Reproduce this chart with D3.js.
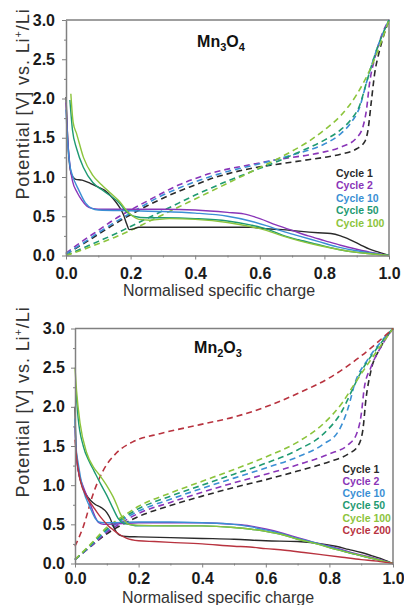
<!DOCTYPE html>
<html>
<head>
<meta charset="utf-8">
<script src="https://cdn.jsdelivr.net/npm/d3@7"></script>
<style>
  body { margin: 0; background: #fff; }
  svg { display: block; }
</style>
</head>
<body>
<div id="chart"></div>
<script>
// Axis ticks
const xTicks = [0, 0.2, 0.4, 0.6, 0.8, 1.0];
const xMinor = [0.1, 0.3, 0.5, 0.7, 0.9];
const yTicks = [0, 0.5, 1.0, 1.5, 2.0, 2.5, 3.0];
const yMinor = [0.25, 0.75, 1.25, 1.75, 2.25, 2.75];

const cyclesTop = ["Cycle 1", "Cycle 2", "Cycle 10", "Cycle 50", "Cycle 100"];
const cyclesBottom = ["Cycle 1", "Cycle 2", "Cycle 10", "Cycle 50", "Cycle 100", "Cycle 200"];

// Mn3O4 discharge (solid), [normalised charge, potential]
const mn3o4Dis1 = [[0,2.02],[0.004,1.6],[0.01,1.2],[0.018,1.02],[0.03,0.97],[0.05,0.96],[0.075,0.92],[0.1,0.87],[0.12,0.83],[0.145,0.73],[0.165,0.62],[0.178,0.52],[0.188,0.4],[0.196,0.33],[0.21,0.34],[0.225,0.36],[0.3,0.36],[0.4,0.36],[0.5,0.36],[0.57,0.36],[0.62,0.34],[0.67,0.33],[0.72,0.31],[0.78,0.29],[0.82,0.28],[0.85,0.25],[0.88,0.2],[0.91,0.14],[0.94,0.08],[0.97,0.04],[1,0]];
const mn3o4Dis2 = [[0,1.95],[0.005,1.5],[0.012,1.15],[0.02,0.95],[0.035,0.8],[0.05,0.7],[0.064,0.63],[0.08,0.6],[0.1,0.59],[0.2,0.59],[0.3,0.59],[0.4,0.58],[0.5,0.55],[0.55,0.53],[0.6,0.47],[0.65,0.39],[0.7,0.32],[0.75,0.25],[0.8,0.19],[0.85,0.13],[0.9,0.08],[0.95,0.035],[1,0]];
const mn3o4Dis10 = [[0,1.86],[0.005,1.45],[0.012,1.15],[0.02,1.02],[0.04,0.83],[0.06,0.67],[0.08,0.6],[0.1,0.58],[0.2,0.57],[0.3,0.56],[0.4,0.54],[0.5,0.5],[0.57,0.44],[0.62,0.38],[0.67,0.31],[0.72,0.25],[0.78,0.18],[0.84,0.11],[0.9,0.06],[0.95,0.03],[1,0]];
const mn3o4Dis50 = [[0.012,1.98],[0.02,1.6],[0.033,1.36],[0.054,1.12],[0.083,0.93],[0.11,0.84],[0.134,0.77],[0.165,0.67],[0.186,0.56],[0.21,0.5],[0.25,0.48],[0.3,0.48],[0.4,0.47],[0.5,0.44],[0.57,0.39],[0.62,0.34],[0.67,0.26],[0.72,0.2],[0.78,0.14],[0.84,0.08],[0.9,0.04],[0.95,0.02],[1,0]];
const mn3o4Dis100 = [[0.015,2.06],[0.022,1.7],[0.033,1.55],[0.054,1.25],[0.083,1.02],[0.11,0.9],[0.134,0.81],[0.165,0.69],[0.195,0.54],[0.226,0.46],[0.26,0.45],[0.32,0.47],[0.4,0.46],[0.5,0.42],[0.57,0.37],[0.62,0.32],[0.67,0.25],[0.72,0.19],[0.78,0.13],[0.84,0.08],[0.9,0.04],[0.95,0.02],[1,0]];

// Mn3O4 charge (dashed)
const mn3o4Chg1 = [[0,0.02],[0.05,0.14],[0.1,0.27],[0.15,0.4],[0.2,0.52],[0.25,0.63],[0.3,0.73],[0.35,0.82],[0.4,0.9],[0.45,0.98],[0.5,1.04],[0.55,1.09],[0.6,1.13],[0.65,1.16],[0.7,1.19],[0.75,1.22],[0.8,1.25],[0.85,1.29],[0.9,1.36],[0.925,1.45],[0.935,1.6],[0.945,1.95],[0.955,2.3],[0.97,2.6],[0.985,2.82],[1,3.0]];
const mn3o4Chg2 = [[0,0.03],[0.05,0.18],[0.1,0.32],[0.15,0.46],[0.2,0.58],[0.25,0.69],[0.3,0.8],[0.35,0.9],[0.4,0.98],[0.45,1.05],[0.5,1.1],[0.55,1.14],[0.6,1.18],[0.65,1.22],[0.7,1.25],[0.75,1.28],[0.8,1.32],[0.85,1.38],[0.9,1.5],[0.92,1.65],[0.93,1.85],[0.94,2.2],[0.955,2.5],[0.975,2.78],[1,3.0]];
const mn3o4Chg10 = [[0,0.02],[0.05,0.15],[0.1,0.29],[0.15,0.42],[0.2,0.54],[0.25,0.66],[0.3,0.77],[0.35,0.86],[0.4,0.94],[0.45,1.01],[0.5,1.07],[0.55,1.12],[0.6,1.17],[0.65,1.22],[0.7,1.28],[0.75,1.34],[0.8,1.42],[0.85,1.55],[0.88,1.68],[0.91,1.9],[0.93,2.2],[0.96,2.6],[1,3.0]];
const mn3o4Chg50 = [[0,0],[0.05,0.09],[0.1,0.18],[0.15,0.27],[0.2,0.37],[0.25,0.47],[0.3,0.57],[0.35,0.67],[0.4,0.77],[0.45,0.86],[0.5,0.95],[0.55,1.03],[0.6,1.11],[0.65,1.19],[0.7,1.28],[0.75,1.37],[0.8,1.47],[0.85,1.6],[0.88,1.72],[0.91,1.92],[0.93,2.2],[0.96,2.6],[1,3.0]];
const mn3o4Chg100 = [[0,0],[0.05,0.07],[0.1,0.15],[0.15,0.23],[0.2,0.32],[0.25,0.42],[0.3,0.52],[0.35,0.62],[0.4,0.72],[0.45,0.82],[0.5,0.92],[0.55,1.02],[0.6,1.12],[0.65,1.22],[0.7,1.33],[0.75,1.45],[0.8,1.6],[0.85,1.78],[0.9,2.05],[0.95,2.45],[1,3.0]];

// Mn2O3 discharge (solid)
const mn2o3Dis1 = [[0,2.0],[0.003,1.5],[0.01,1.2],[0.02,1.02],[0.035,0.88],[0.05,0.8],[0.065,0.75],[0.08,0.72],[0.1,0.65],[0.11,0.58],[0.12,0.48],[0.13,0.4],[0.142,0.36],[0.16,0.345],[0.2,0.34],[0.3,0.33],[0.4,0.32],[0.5,0.31],[0.6,0.29],[0.7,0.28],[0.76,0.26],[0.82,0.22],[0.86,0.18],[0.9,0.14],[0.94,0.09],[0.97,0.05],[1,0]];
const mn2o3Dis2 = [[0,1.75],[0.003,1.45],[0.01,1.19],[0.026,0.98],[0.047,0.77],[0.063,0.6],[0.075,0.52],[0.09,0.5],[0.15,0.51],[0.2,0.52],[0.3,0.52],[0.4,0.52],[0.5,0.5],[0.55,0.48],[0.6,0.44],[0.65,0.39],[0.7,0.33],[0.76,0.26],[0.82,0.2],[0.88,0.13],[0.94,0.07],[1,0]];
const mn2o3Dis10 = [[0,1.85],[0.003,1.5],[0.01,1.28],[0.026,0.94],[0.047,0.72],[0.063,0.58],[0.075,0.53],[0.09,0.52],[0.2,0.53],[0.3,0.53],[0.4,0.52],[0.5,0.5],[0.55,0.47],[0.6,0.43],[0.65,0.38],[0.7,0.32],[0.76,0.26],[0.82,0.19],[0.88,0.12],[0.94,0.06],[1,0]];
const mn2o3Dis50 = [[0.003,2.2],[0.01,1.85],[0.026,1.5],[0.045,1.3],[0.06,1.18],[0.08,1.02],[0.1,0.87],[0.12,0.7],[0.135,0.58],[0.15,0.52],[0.17,0.5],[0.2,0.48],[0.3,0.48],[0.4,0.48],[0.5,0.46],[0.55,0.44],[0.6,0.41],[0.65,0.37],[0.7,0.31],[0.76,0.25],[0.82,0.18],[0.88,0.12],[0.94,0.06],[1,0]];
const mn2o3Dis100 = [[0,2.5],[0.005,2.2],[0.016,1.79],[0.037,1.41],[0.058,1.23],[0.075,1.14],[0.089,1.06],[0.105,0.96],[0.12,0.85],[0.132,0.74],[0.142,0.64],[0.155,0.55],[0.17,0.5],[0.19,0.49],[0.3,0.48],[0.4,0.48],[0.5,0.46],[0.55,0.44],[0.6,0.41],[0.65,0.37],[0.7,0.31],[0.76,0.25],[0.82,0.18],[0.88,0.12],[0.94,0.06],[1,0]];
const mn2o3Dis200 = [[0,1.58],[0.005,1.35],[0.016,1.07],[0.037,0.85],[0.058,0.72],[0.075,0.62],[0.089,0.55],[0.105,0.48],[0.12,0.43],[0.14,0.37],[0.163,0.32],[0.2,0.29],[0.25,0.28],[0.3,0.27],[0.4,0.25],[0.5,0.22],[0.55,0.21],[0.6,0.19],[0.66,0.17],[0.72,0.14],[0.78,0.11],[0.84,0.08],[0.9,0.05],[0.95,0.03],[1,0]];

// Mn2O3 charge (dashed)
const mn2o3Chg1 = [[0,0.05],[0.05,0.22],[0.1,0.38],[0.15,0.5],[0.2,0.6],[0.3,0.74],[0.4,0.86],[0.5,0.97],[0.6,1.07],[0.7,1.18],[0.8,1.3],[0.86,1.4],[0.89,1.5],[0.905,1.7],[0.915,2.1],[0.93,2.45],[0.96,2.75],[1,3.0]];
const mn2o3Chg2 = [[0,0.05],[0.05,0.22],[0.1,0.4],[0.15,0.53],[0.2,0.64],[0.3,0.78],[0.4,0.91],[0.5,1.03],[0.6,1.14],[0.7,1.26],[0.8,1.4],[0.86,1.52],[0.885,1.65],[0.9,1.9],[0.91,2.25],[0.93,2.5],[0.96,2.75],[1,3.0]];
const mn2o3Chg10 = [[0,0.05],[0.05,0.23],[0.1,0.42],[0.15,0.56],[0.2,0.67],[0.3,0.82],[0.4,0.96],[0.5,1.09],[0.6,1.22],[0.7,1.36],[0.78,1.52],[0.83,1.7],[0.86,2.0],[0.88,2.3],[0.92,2.6],[0.96,2.82],[1,3.0]];
const mn2o3Chg50 = [[0,0.05],[0.05,0.24],[0.1,0.44],[0.15,0.58],[0.2,0.7],[0.3,0.86],[0.4,1.0],[0.5,1.14],[0.6,1.28],[0.7,1.45],[0.78,1.65],[0.84,1.95],[0.87,2.2],[0.9,2.45],[0.95,2.75],[1,3.0]];
const mn2o3Chg100 = [[0,0.05],[0.05,0.25],[0.1,0.46],[0.15,0.6],[0.2,0.73],[0.3,0.9],[0.4,1.05],[0.5,1.2],[0.6,1.36],[0.7,1.55],[0.78,1.78],[0.84,2.05],[0.88,2.3],[0.93,2.6],[1,3.0]];
const mn2o3Chg200 = [[0,0.22],[0.026,0.47],[0.058,0.9],[0.089,1.19],[0.13,1.41],[0.18,1.55],[0.27,1.66],[0.39,1.77],[0.5,1.87],[0.6,2.0],[0.7,2.17],[0.8,2.37],[0.9,2.65],[1,3.0]];

const cycleColor = {
  "Cycle 1": "#2a2a2a",
  "Cycle 2": "#8a35b8",
  "Cycle 10": "#3b8fd4",
  "Cycle 50": "#1f9a72",
  "Cycle 100": "#8cc43c",
  "Cycle 200": "#b8333f"
};

const font = "'Liberation Sans', Arial, sans-serif";
const axisGrey = "#808080";

const svg = d3.select("#chart")
  .append("svg")
  .attr("width", 404)
  .attr("height", 605)
  .style("font-family", font);

function drawPanel(cfg) {
  const x = d3.scaleLinear().domain([0, 1]).range([cfg.left, cfg.right]);
  const y = d3.scaleLinear().domain([0, 3]).range([cfg.bottom, cfg.top]);
  const g = svg.append("g");

  // frame top and right
  g.append("path")
    .attr("d", `M${cfg.left},${cfg.top}H${cfg.right}V${cfg.bottom}`)
    .attr("fill", "none")
    .attr("stroke", axisGrey)
    .attr("stroke-width", 1.5);

  const line = d3.line()
    .x(d => x(d[0]))
    .y(d => y(d[1]))
    .curve(d3.curveMonotoneX);

  // charge curves (dashed)
  g.append("g")
    .selectAll("path")
    .data(cfg.charge)
    .join("path")
    .attr("d", d => line(d.values))
    .attr("fill", "none")
    .attr("stroke", d => cycleColor[d.name])
    .attr("stroke-width", 1.6)
    .attr("stroke-dasharray", "6,4");

  // discharge curves (solid)
  g.append("g")
    .selectAll("path")
    .data(cfg.discharge)
    .join("path")
    .attr("d", d => line(d.values))
    .attr("fill", "none")
    .attr("stroke", d => cycleColor[d.name])
    .attr("stroke-width", 1.4);

  // x axis
  g.append("g")
    .attr("transform", `translate(0,${cfg.bottom})`)
    .call(d3.axisBottom(x).tickValues(xMinor).tickSize(2).tickFormat(""))
    .call(a => a.select(".domain").remove())
    .call(a => a.selectAll("line").attr("stroke", axisGrey));
  g.append("g")
    .attr("transform", `translate(0,${cfg.bottom})`)
    .call(d3.axisBottom(x).tickValues(xTicks).tickSize(4).tickSizeOuter(0)
      .tickPadding(cfg.xPad).tickFormat(d3.format(".1f")))
    .call(a => a.select(".domain").attr("stroke", axisGrey).attr("stroke-width", 1.5))
    .call(a => a.selectAll("line").attr("stroke", axisGrey))
    .call(a => a.selectAll("text")
      .attr("fill", "#1a1a1a")
      .style("font-family", font)
      .style("font-size", "16px")
      .style("font-weight", "bold"));

  // y axis
  g.append("g")
    .attr("transform", `translate(${cfg.left},0)`)
    .call(d3.axisLeft(y).tickValues(yMinor).tickSize(2).tickFormat(""))
    .call(a => a.select(".domain").remove())
    .call(a => a.selectAll("line").attr("stroke", axisGrey));
  g.append("g")
    .attr("transform", `translate(${cfg.left},0)`)
    .call(d3.axisLeft(y).tickValues(yTicks).tickSize(4).tickSizeOuter(0)
      .tickPadding(cfg.yPad).tickFormat(d3.format(".1f")))
    .call(a => a.select(".domain").attr("stroke", axisGrey).attr("stroke-width", 1.5))
    .call(a => a.selectAll("line").attr("stroke", axisGrey))
    .call(a => a.selectAll("text")
      .attr("fill", "#1a1a1a")
      .style("font-family", font)
      .style("font-size", "16px")
      .style("font-weight", "bold"));

  // x title
  g.append("text")
    .attr("x", cfg.xTitle[0])
    .attr("y", cfg.xTitle[1])
    .attr("text-anchor", "middle")
    .attr("fill", "#333")
    .style("font-size", "16px")
    .text("Normalised specific charge");

  // y title
  const yt = g.append("text")
    .attr("transform", `translate(${cfg.yTitle[0]},${cfg.yTitle[1]}) rotate(-90)`)
    .attr("text-anchor", "middle")
    .attr("fill", "#333")
    .style("font-size", "18px")
    .style("letter-spacing", "0.9px");
  yt.append("tspan").text("Potential [V] vs. Li");
  yt.append("tspan").attr("dy", -7).style("font-size", "11px").text("+");
  yt.append("tspan").attr("dy", 7).text("/Li");

  // compound label
  const t = g.append("text")
    .attr("x", cfg.label[0])
    .attr("y", cfg.label[1])
    .attr("text-anchor", "middle")
    .attr("fill", "#111")
    .style("font-size", "16px")
    .style("font-weight", "bold");
  cfg.formula.forEach((part, i) => {
    const sub = i % 2 === 1;
    t.append("tspan")
      .attr("dy", sub ? 4 : (i > 0 ? -4 : 0))
      .style("font-size", sub ? "11px" : "16px")
      .text(part);
  });

  // legend
  g.append("g")
    .selectAll("text")
    .data(cfg.cycles)
    .join("text")
    .attr("x", cfg.legend[0])
    .attr("y", (d, i) => cfg.legend[1] + i * cfg.legend[2])
    .attr("fill", d => cycleColor[d])
    .style("font-size", "10.5px")
    .style("font-weight", "bold")
    .text(d => d);
}

drawPanel({
  left: 66, right: 389, top: 20, bottom: 255.5,
  xPad: 8, yPad: 7,
  xTitle: [219, 296], yTitle: [29, 104],
  label: [221, 47], formula: ["Mn", "3", "O", "4"],
  legend: [336, 176.5, 12.5],
  cycles: cyclesTop,
  discharge: [
    { name: "Cycle 1", values: mn3o4Dis1 },
    { name: "Cycle 2", values: mn3o4Dis2 },
    { name: "Cycle 10", values: mn3o4Dis10 },
    { name: "Cycle 50", values: mn3o4Dis50 },
    { name: "Cycle 100", values: mn3o4Dis100 }
  ],
  charge: [
    { name: "Cycle 1", values: mn3o4Chg1 },
    { name: "Cycle 2", values: mn3o4Chg2 },
    { name: "Cycle 10", values: mn3o4Chg10 },
    { name: "Cycle 50", values: mn3o4Chg50 },
    { name: "Cycle 100", values: mn3o4Chg100 }
  ]
});

drawPanel({
  left: 75, right: 393, top: 328.5, bottom: 563.5,
  xPad: 5, yPad: 6,
  xTitle: [218, 603], yTitle: [29, 402],
  label: [218, 353], formula: ["Mn", "2", "O", "3"],
  legend: [342.5, 472.5, 12.3],
  cycles: cyclesBottom,
  discharge: [
    { name: "Cycle 1", values: mn2o3Dis1 },
    { name: "Cycle 2", values: mn2o3Dis2 },
    { name: "Cycle 10", values: mn2o3Dis10 },
    { name: "Cycle 50", values: mn2o3Dis50 },
    { name: "Cycle 100", values: mn2o3Dis100 },
    { name: "Cycle 200", values: mn2o3Dis200 }
  ],
  charge: [
    { name: "Cycle 1", values: mn2o3Chg1 },
    { name: "Cycle 2", values: mn2o3Chg2 },
    { name: "Cycle 10", values: mn2o3Chg10 },
    { name: "Cycle 50", values: mn2o3Chg50 },
    { name: "Cycle 100", values: mn2o3Chg100 },
    { name: "Cycle 200", values: mn2o3Chg200 }
  ]
});
</script>
</body>
</html>
